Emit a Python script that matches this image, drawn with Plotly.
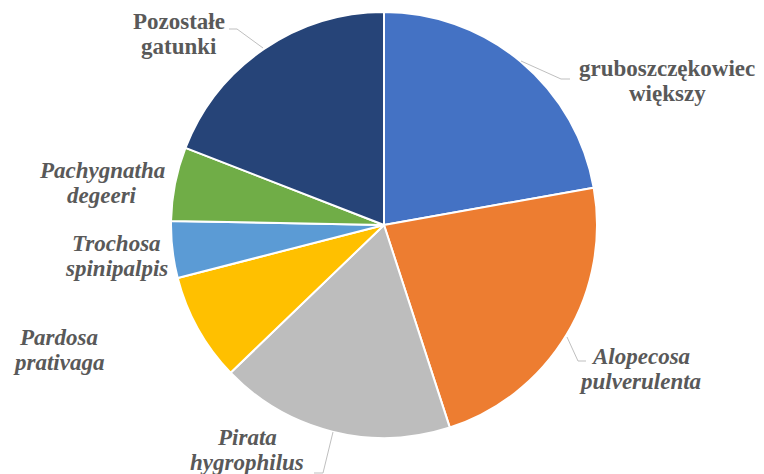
import plotly.graph_objects as go

categories = ["gruboszczękowiec<br>większy", "Alopecosa<br>pulverulenta", "Pirata<br>hygrophilus",
              "Pardosa<br>prativaga", "Trochosa<br>spinipalpis", "Pachygnatha<br>degeeri",
              "Pozostałe<br>gatunki"]
values = [22.2, 22.8, 17.8, 8.2, 4.3, 5.6, 19.1]
italic = [False, True, True, True, True, True, False]
colors = ["#4472C4", "#ED7D31", "#BDBDBD", "#FFC000", "#5B9BD5", "#70AD47", "#264478"]

W, H = 764, 474
OFF = 8  # page body margin offset
LINE = 25  # label line pitch (px)

# label positions (page pixel centres) and leader lines (page pixels)
label_pos = [(667, 81), (640, 369), (247, 450), (58, 350), (116, 256), (102, 183), (179, 34)]
leaders = [
    [(521, 61), (561, 79), (570, 79)],
    [(567, 337), (578, 361), (586, 361)],
    [(333, 432), (323, 473), (314, 473)],
    None, None, None,
    [(263, 48), (237, 29), (229, 29)],
]

def px(x, y):
    return (x - OFF) / W, 1 - (y - OFF) / H

x0, y0 = px(171, 438)
x1, y1 = px(597, 12)

fig = go.Figure(go.Pie(
    labels=categories, values=values, sort=False, direction="clockwise", rotation=0,
    marker=dict(colors=colors, line=dict(color="white", width=2)),
    textinfo="none", hoverinfo="label+percent", showlegend=False,
    domain=dict(x=[x0, x1], y=[y0, y1]),
))

annotations = []
for cat, it, (x, y) in zip(categories, italic, label_pos):
    lines = cat.split("<br>")
    n = len(lines)
    for i, ln in enumerate(lines):
        t = f"<b><i>{ln}</i></b>" if it else f"<b>{ln}</b>"
        ly = y + (i - (n - 1) / 2) * LINE
        ax, ay = px(x, ly)
        annotations.append(dict(text=t, x=ax, y=ay, xref="paper", yref="paper", showarrow=False,
                                xanchor="center", yanchor="middle", align="center",
                                font=dict(family="Liberation Serif", size=23, color="#595959")))

shapes = []
for pts in leaders:
    if not pts:
        continue
    path = "M " + " L ".join(f"{px(x, y)[0]},{px(x, y)[1]}" for x, y in pts)
    shapes.append(dict(type="path", path=path, xref="paper", yref="paper",
                       line=dict(color="#BFBFBF", width=1)))

fig.update_layout(width=W, height=H, margin=dict(l=0, r=0, t=0, b=0),
                  paper_bgcolor="white", plot_bgcolor="white",
                  annotations=annotations, shapes=shapes)

fig.write_html("out.html")
